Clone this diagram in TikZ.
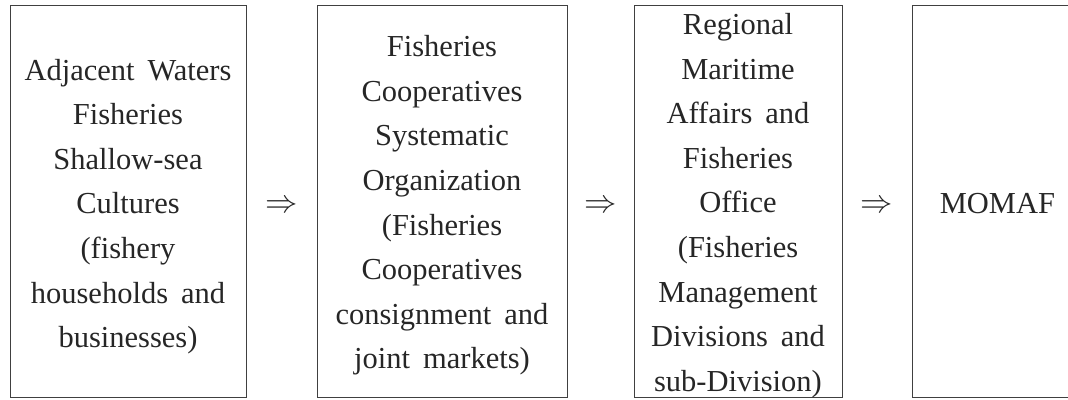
\documentclass[tikz,border=0pt]{standalone}
\usepackage{fontspec}
\usepackage{graphicx}
\setmainfont[WordSpace=1.7]{Liberation Serif}
\usetikzlibrary{calc}
\begin{document}
\begin{tikzpicture}[x=1pt,y=1pt,
  txt/.style={font=\fontsize{30.5}{44.6}\selectfont, align=center, text=black!85, inner sep=0pt},
  stagebox/.style={draw=black!75, line width=0.9pt, inner sep=0pt, minimum height=392pt},
  flowarrow/.style={font=\fontsize{24}{28}\selectfont, inner sep=0pt, text=black!85}]
\useasboundingbox (0,0) rectangle (1068,-399);
\node[stagebox, minimum width=236pt] (b1) at (128,-201.5) {};
\node[stagebox, minimum width=250pt] (b2) at (442,-201.5) {};
\node[stagebox, minimum width=208pt] (b3) at (738,-201.5) {};
\node[stagebox, minimum width=162pt] (b4) at (993,-201.5) {};
\node[txt] (t1) at ($(b1.center)+(0,-5)$) {Adjacent Waters\\Fisheries\\Shallow-sea\\Cultures\\(fishery\\households and\\businesses)};
\node[txt] (t2) at ($(b2.center)+(0,-4)$) {Fisheries\\Cooperatives\\Systematic\\Organization\\(Fisheries\\Cooperatives\\consignment and\\joint markets)};
\node[txt] (t3) at ($(b3.center)+(0,-4)$) {Regional\\Maritime\\Affairs and\\Fisheries\\Office\\(Fisheries\\Management\\Divisions and\\sub-Division)};
\node[txt, anchor=west] (t4) at ($(b4.west)+(28,-2)$) {MOMAF};
\node[flowarrow] (a1) at ($(b1.east)!0.5!(b2.west)+(0,-5)$) {\scalebox{1.3}{$\Rightarrow$}};
\node[flowarrow] (a2) at ($(b2.east)!0.5!(b3.west)+(0,-5)$) {\scalebox{1.3}{$\Rightarrow$}};
\node[flowarrow] (a3) at ($(b3.east)!0.5!(b4.west)+(0,-5)$) {\scalebox{1.3}{$\Rightarrow$}};
\end{tikzpicture}
\end{document}
